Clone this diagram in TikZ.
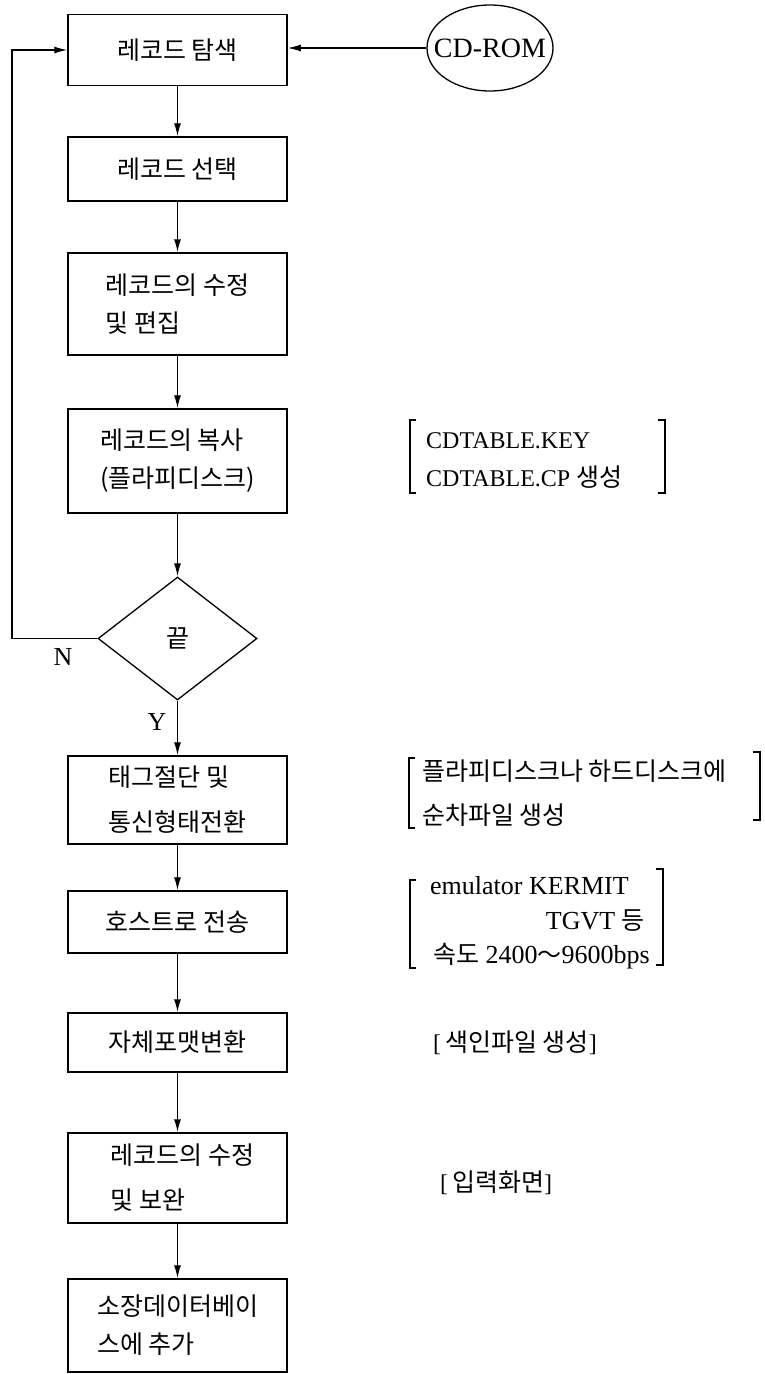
\documentclass[tikz,border=0pt]{standalone}
\usepackage{fontspec}
\setmainfont{Liberation Serif}
\newfontfamily\kr{Noto Sans CJK KR}
\usetikzlibrary{shapes.geometric,arrows.meta}
\begin{document}
\begin{tikzpicture}[x=1pt,y=-1pt,
  box/.style={draw,line width=1.5pt,minimum width=219pt,inner sep=0pt,align=left,
              font=\kr\fontsize{25}{38}\selectfont},
  arr/.style={line width=1.3pt,-{Latex[length=13pt,width=7pt]}},
  ann/.style={inner sep=0pt,font=\fontsize{24}{30}\selectfont},
  krann/.style={inner sep=0pt,font=\kr\fontsize{25}{30}\selectfont},
  lat/.style={inner sep=0pt,font=\fontsize{26}{30}\selectfont},
  brk/.style={line width=1.3pt}]
\useasboundingbox (0,0) rectangle (765,1374);

% flow boxes
\node[box,minimum height=71pt] (b1) at (177.5,50) {레코드 탐색};
\node[box,minimum height=64pt] (b2) at (177.5,169) {레코드 선택};
\node[box,minimum height=102pt] (b3) at (177.5,304) {레코드의 수정\\및 편집};
\node[box,minimum height=104pt] (b4) at (177.5,461) {레코드의 복사\\(플라피디스크)};
\node[diamond,draw,line width=1.3pt,inner sep=0pt,aspect=1.3,minimum width=159pt,
      minimum height=123pt,font=\kr\fontsize{25}{30}\selectfont] (d) at (177.5,638.5) {끝};
\node[box,minimum height=88pt] (b5) at (177.5,800) {태그절단 및\\[7pt]통신형태전환};
\node[box,minimum height=62pt] (b6) at (177.5,922) {호스트로 전송};
\node[box,minimum height=59pt] (b7) at (177.5,1042.5) {자체포맷변환};
\node[box,minimum height=90pt] (b8) at (177.5,1178) {\hspace*{10pt}레코드의 수정\\[7pt]\hspace*{10pt}및 보완};
\node[box,minimum height=93pt] (b9) at (177.5,1325.5) {소장데이터베이\\스에 추가};

% CD-ROM
\node[ellipse,draw,line width=1.3pt,inner xsep=-12pt,inner ysep=0pt,minimum width=126pt,
      minimum height=86pt,font=\fontsize{28}{30}\selectfont] (cd) at (490,48) {CD-ROM};

% connectors
\draw[arr] (b1) -- (b2);
\draw[arr] (b2) -- (b3);
\draw[arr] (b3) -- (b4);
\draw[arr] (b4) -- (d);
\draw[arr] (d) -- (b5);
\draw[arr] (b5) -- (b6);
\draw[arr] (b6) -- (b7);
\draw[arr] (b7) -- (b8);
\draw[arr] (b8) -- (b9);
\draw[arr] (cd.west) -- (b1.east |- cd.west);
\coordinate (lp) at (12,0);
\draw[arr] (d.west) -- (d.west -| lp) |- (b1.west);

% N / Y labels
\node[lat] (nl) at (63,657) {N};
\node[lat] (yl) at (157,722) {Y};

% annotation 1
\node[ann,anchor=base west] (a1a) at (426,448) {CDTABLE.KEY};
\node[ann,anchor=base west] (a1b) at (426,486) {CDTABLE.CP {\kr\fontsize{25}{30}\selectfont 생성}};
\draw[brk] (416,420) -- (410,420) -- (410,493) -- (416,493);
\draw[brk] (658,420) -- (665,420) -- (665,493) -- (658,493);

% annotation 2
\node[krann,anchor=west] (a2a) at (422,771) {플라피디스크나 하드디스크에};
\node[krann,anchor=west] (a2b) at (422,815) {순차파일 생성};
\draw[brk] (415,758) -- (409,758) -- (409,828) -- (415,828);
\draw[brk] (753,752) -- (760,752) -- (760,820) -- (753,820);

% annotation 3
\node[lat,anchor=base west] (a3a) at (430,894) {emulator KERMIT};
\node[lat,anchor=base east] (a3b) at (645,929) {TGVT {\kr\fontsize{25}{30}\selectfont 등}};
\node[lat,anchor=base west] (a3c) at (433,963) {{\kr\fontsize{25}{30}\selectfont 속도} 2400{\kr\fontsize{24}{30}\selectfont ～}9600bps};
\draw[brk] (416,880) -- (410,880) -- (410,968) -- (416,968);
\draw[brk] (656,869) -- (663,869) -- (663,965) -- (656,965);

% annotation 4, 5
\node[ann,anchor=west] (a4) at (433,1043) {[\,{\kr\fontsize{25}{30}\selectfont 색인파일 생성}]};
\node[ann,anchor=west] (a5) at (440,1183) {[\,{\kr\fontsize{25}{30}\selectfont 입력화면}]};
\end{tikzpicture}
\end{document}
